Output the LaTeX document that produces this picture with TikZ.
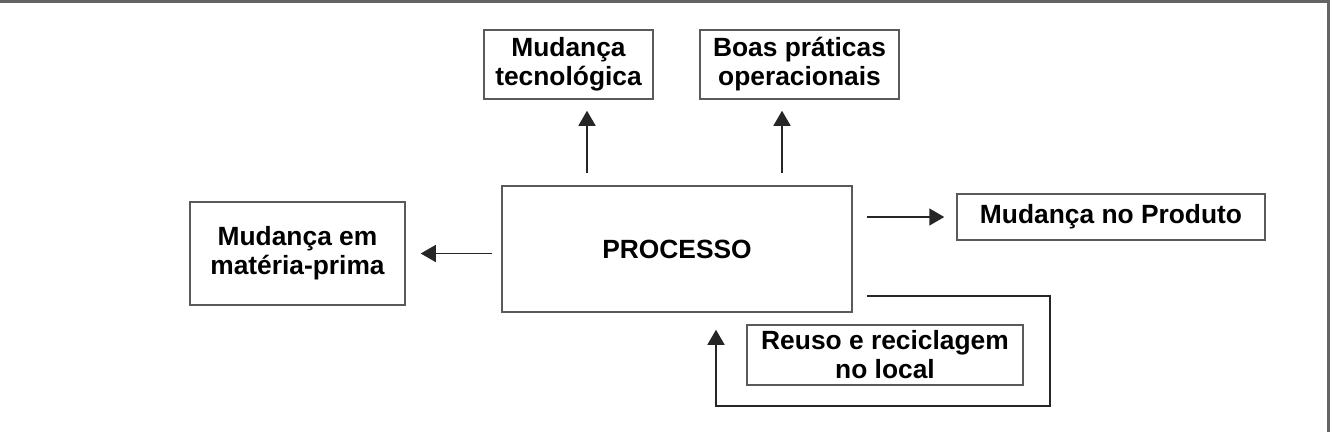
\documentclass[tikz,border=0pt]{standalone}
\usepackage{fontspec}
\setmainfont{Liberation Sans}
\usetikzlibrary{arrows.meta,positioning}
\definecolor{linegray}{RGB}{90,90,90}
\definecolor{framegray}{RGB}{100,100,100}
\tikzset{
  box/.style={draw=linegray,line width=0.3mm,align=center,inner sep=0pt,
              font=\fontsize{15}{16.5}\selectfont\bfseries},
  flow/.style={-{Triangle[length=3mm,width=3.4mm]},draw=black!85,line width=0.3mm},
  frame/.style={draw=framegray,line width=0.6mm},
}
\begin{document}
\begin{tikzpicture}[x=0.2mm,y=-0.2mm]
  \path[use as bounding box] (0,0) rectangle (1333,432);
  \draw[frame] (0,1) -- (1328,1) -- (1328,432);

  \node[box,minimum width=33.8mm,minimum height=13.8mm] (TEC) at (568.5,64.5)
    {Mudança\\tecnológica};
  \node[box,minimum width=39.8mm,minimum height=13.8mm] (BOAS) at (799.5,64.5)
    {Boas práticas\\operacionais};
  \node[box,minimum width=70mm,minimum height=25.2mm] (PROC) at (677,249)
    {PROCESSO};
  \node[box,minimum width=43mm,minimum height=20.6mm] (MAT) at (297.5,253.5)
    {Mudança em\\matéria-prima};
  \node[box,minimum width=61.6mm,minimum height=9.2mm] (PROD) at (1111,217)
    {Mudança no Produto};
  \node[box,minimum width=55.2mm,minimum height=12mm] (REUSO) at (885,355)
    {Reuso e reciclagem\\no local};
  \coordinate (LOOPR) at (1050,406);
  \coordinate (LOOPL) at (716,406);

  \draw[flow,shorten <=2.4mm,shorten >=2.2mm] ([xshift=-18mm]PROC.north) -- ([xshift=-18mm]PROC.north |- TEC.south);
  \draw[flow,shorten <=2.4mm,shorten >=2.2mm] ([xshift=21mm]PROC.north) -- ([xshift=21mm]PROC.north |- BOAS.south);
  \draw[flow,shorten <=1.8mm,shorten >=3mm] (PROC.west |- MAT.east) -- (MAT.east);
  \draw[flow,shorten <=2.8mm,shorten >=2.4mm] (PROC.east |- PROD.west) -- (PROD.west);
  \draw[flow,shorten >=3.4mm] ([shift={(14,-17)}]PROC.south east) -| (LOOPR) -- (LOOPL) -- (LOOPL |- PROC.south);
\end{tikzpicture}
\end{document}
